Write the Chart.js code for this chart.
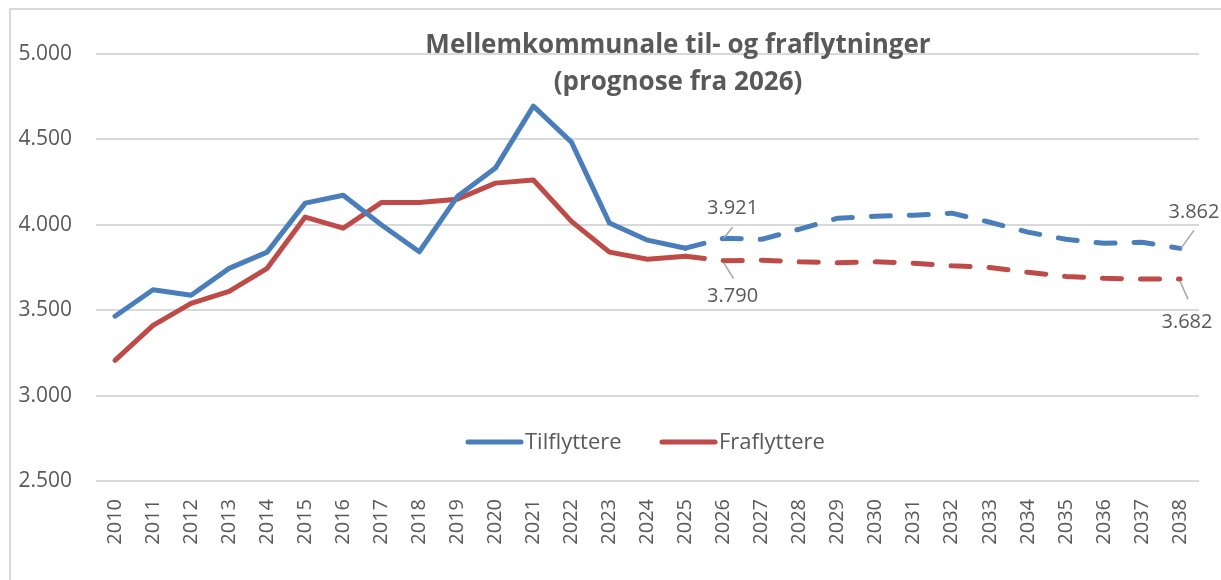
<!DOCTYPE html>
<html>
<head>
<meta charset="utf-8">
<script src="https://cdn.jsdelivr.net/npm/chart.js@4"></script>
<style>
  html, body { margin: 0; padding: 0; background: #ffffff; overflow: hidden; }
  #wrap { width: 1221px; height: 580px; position: relative; }
</style>
</head>
<body>
<div id="wrap"><canvas id="c" width="1221" height="580"></canvas></div>
<script>
const years = ['2010','2011','2012','2013','2014','2015','2016','2017','2018','2019',
  '2020','2021','2022','2023','2024','2025','2026','2027','2028','2029',
  '2030','2031','2032','2033','2034','2035','2036','2037','2038'];
const tilflyttere = [3465, 3620, 3588, 3745, 3840, 4127, 4173, 4000, 3842, 4165,
  4332, 4695, 4484, 4010, 3910, 3863, 3921, 3915, 3975, 4039,
  4050, 4056, 4068, 4015, 3957, 3915, 3892, 3898, 3862];
const fraflyttere = [3206, 3411, 3540, 3610, 3745, 4045, 3980, 4130, 4130, 4150,
  4244, 4262, 4020, 3840, 3798, 3816, 3790, 3793, 3783, 3778,
  3783, 3775, 3760, 3750, 3722, 3698, 3687, 3682, 3682];
const seriesNames = ['Tilflyttere', 'Fraflyttere'];
const titleLines = ['Mellemkommunale til- og fraflytninger', '(prognose fra 2026)'];
const forecastStartIndex = 15; // segments from 2025 onward are dashed
const yTicks = { min: 2500, max: 5000, step: 500 };

const BLUE = '#4a7ebb';
const RED = '#be4b48';
const TXT = '#595959';
const GRID = '#d9d9d9';
const FONT = '"Open Sans", "Liberation Sans", Arial, sans-serif';

function fmt(v) { return Math.round(v).toString().replace(/\B(?=(\d{3})+(?!\d))/g, '.'); }

// labelled points: dataset, index, label offset (dx,dy), leader from/to offsets
const callouts = [
  { ds: 0, i: 16, dx: 9,  dy: -30, l1: [9, -11], l2: [0, 0] },
  { ds: 1, i: 16, dx: 9,  dy: 36,  l1: [0, 2],   l2: [10, 18] },
  { ds: 0, i: 28, dx: 14, dy: -36, l1: [14, -18], l2: [1, 0] },
  { ds: 1, i: 28, dx: 7,  dy: 43,  l1: [0, 2],   l2: [8, 20] }
];

const decor = {
  id: 'decor',
  beforeDraw(chart) {
    const ctx = chart.ctx;
    ctx.save();
    ctx.strokeStyle = GRID;
    ctx.lineWidth = 2;
    ctx.beginPath();
    ctx.moveTo(10, 600);
    ctx.lineTo(10, 9);
    ctx.lineTo(1230, 9);
    ctx.stroke();
    ctx.restore();
  },
  afterDatasetsDraw(chart) {
    const ctx = chart.ctx;
    ctx.save();
    // callouts
    ctx.font = '20px ' + FONT;
    ctx.fillStyle = TXT;
    ctx.textAlign = 'center';
    ctx.textBaseline = 'middle';
    callouts.forEach(c => {
      const p = chart.getDatasetMeta(c.ds).data[c.i];
      const v = chart.data.datasets[c.ds].data[c.i];
      ctx.strokeStyle = '#a6a6a6';
      ctx.lineWidth = 1.5;
      ctx.beginPath();
      ctx.moveTo(p.x + c.l1[0], p.y + c.l1[1]);
      ctx.lineTo(p.x + c.l2[0], p.y + c.l2[1]);
      ctx.stroke();
      ctx.fillText(fmt(v), p.x + c.dx, p.y + c.dy);
    });
    // title
    ctx.font = 'bold 26px ' + FONT;
    ctx.textBaseline = 'alphabetic';
    ctx.fillText(titleLines[0], 678, 53);
    ctx.fillText(titleLines[1], 678, 90);
    // legend
    ctx.font = '22px ' + FONT;
    ctx.textAlign = 'left';
    const legendX = [466, 660];
    chart.data.datasets.forEach((d, k) => {
      const x0 = legendX[k];
      ctx.strokeStyle = d.borderColor;
      ctx.lineWidth = 5;
      ctx.lineCap = 'round';
      ctx.beginPath();
      ctx.moveTo(x0 + 2, 442);
      ctx.lineTo(x0 + 55, 442);
      ctx.stroke();
      ctx.fillText(d.label, x0 + 59, 449);
    });
    ctx.restore();
  }
};

const dash = ctx => ctx.p0DataIndex >= forecastStartIndex ? [19, 19] : undefined;

new Chart(document.getElementById('c'), {
  type: 'line',
  data: {
    labels: years,
    datasets: [
      { label: seriesNames[0], data: tilflyttere, borderColor: BLUE, backgroundColor: BLUE,
        borderWidth: 5, pointRadius: 0, tension: 0, borderCapStyle: 'round', borderJoinStyle: 'round',
        segment: { borderDash: dash } },
      { label: seriesNames[1], data: fraflyttere, borderColor: RED, backgroundColor: RED,
        borderWidth: 5, pointRadius: 0, tension: 0, borderCapStyle: 'round', borderJoinStyle: 'round',
        segment: { borderDash: dash } }
    ]
  },
  options: {
    responsive: false,
    animation: false,
    events: [],
    layout: { padding: { top: 54, right: 22, left: 0, bottom: 0 } },
    plugins: { legend: { display: false }, title: { display: false }, tooltip: { enabled: false } },
    scales: {
      x: {
        offset: true,
        grid: { display: false },
        border: { display: false },
        ticks: { color: TXT, font: { family: FONT, size: 20 },
                 minRotation: 90, maxRotation: 90, padding: 10, autoSkip: false },
        afterFit: s => { s.height = 99; }
      },
      y: {
        min: yTicks.min, max: yTicks.max,
        grid: { color: GRID, lineWidth: 2, drawTicks: false },
        border: { display: false },
        ticks: { stepSize: yTicks.step, color: TXT, padding: 24,
                 font: { family: FONT, size: 21 },
                 callback: v => fmt(v) },
        afterFit: s => { s.width = 96; }
      }
    }
  },
  plugins: [decor]
});
</script>
</body>
</html>
